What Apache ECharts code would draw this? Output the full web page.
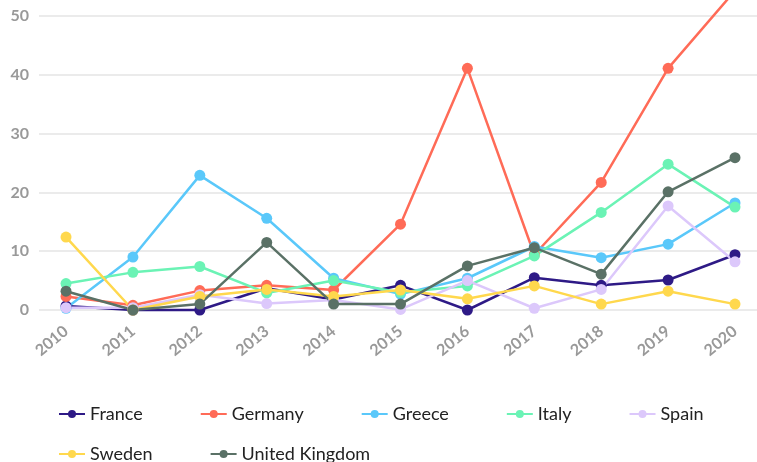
<!DOCTYPE html>
<html>
<head>
<meta charset="utf-8">
<script src="https://cdn.jsdelivr.net/npm/echarts@6/dist/echarts.min.js"></script>
<style>
  html, body { margin: 0; padding: 0; background: #fff; }
  #chart { width: 757px; height: 462px; }
</style>
</head>
<body>
<div id="chart"></div>
<script>
// data
var years = [2010, 2011, 2012, 2013, 2014, 2015, 2016, 2017, 2018, 2019, 2020];
var countries = ["France", "Germany", "Greece", "Italy", "Spain", "Sweden", "United Kingdom"];
var colors = ["#2e1a86", "#ff6b57", "#5ac8fa", "#6bf3b5", "#dcc8fb", "#ffd84d", "#5a7166"];

var france  = [0.7, 0, 0, 3.7, 1.8, 4.2, 0, 5.5, 4.2, 5.1, 9.4];
var germany = [2.3, 0.8, 3.3, 4.2, 3.4, 14.6, 41.1, 9.4, 21.7, 41.1, 54.3];
var greece  = [0.3, 9.0, 22.9, 15.6, 5.4, 2.7, 5.4, 10.8, 8.9, 11.2, 18.2];
var italy   = [4.5, 6.4, 7.4, 2.9, 5.0, 3.0, 4.1, 9.2, 16.6, 24.8, 17.5];
var spain   = [0.4, 0.4, 2.6, 1.1, 1.7, 0.1, 5.0, 0.3, 3.5, 17.7, 8.2];
var sweden  = [12.4, 0, 2.3, 3.5, 2.3, 3.4, 1.9, 4.1, 1.0, 3.2, 1.0];
var uk      = [3.2, 0, 1.0, 11.5, 1.0, 1.0, 7.5, 10.6, 6.1, 20.1, 25.9];
var values = [france, germany, greece, italy, spain, sweden, uk];

var yTicks = [0, 10, 20, 30, 40, 50];

var chart = echarts.init(document.getElementById("chart"));

var series = countries.map(function (name, i) {
  return {
    name: name,
    type: "line",
    clip: false,
    symbol: "circle",
    symbolSize: 11,
    lineStyle: { width: 2.5, color: colors[i] },
    itemStyle: { color: colors[i] },
    data: years.map(function (y, j) { return [y, values[i][j]]; })
  };
});

chart.setOption({
  animation: false,
  color: colors,
  grid: { left: 39, right: 0, top: 16, height: 294 },
  xAxis: {
    type: "value",
    min: 2009.596,
    max: 2020.329,
    axisLine: { show: false },
    axisTick: { show: false },
    splitLine: { show: false },
    axisLabel: {
      customValues: years,
      rotate: 40,
      margin: 19,
      color: "#999",
      fontFamily: "Lato",
      fontWeight: "bold",
      fontSize: 16,
      formatter: function (v) { return String(v); }
    }
  },
  yAxis: {
    type: "value",
    min: 0,
    max: 50,
    interval: 10,
    axisLine: { show: false },
    axisTick: { show: false },
    splitLine: { lineStyle: { color: "#e4e4e4", width: 1.5 } },
    axisLabel: {
      margin: 10,
      color: "#999",
      fontFamily: "Lato",
      fontWeight: "bold",
      fontSize: 16,
      formatter: function (v) { return yTicks.indexOf(v) >= 0 ? String(v) : ""; }
    }
  },
  legend: {
    left: 53,
    top: 399,
    width: 700,
    itemWidth: 26,
    itemHeight: 10,
    itemGap: 20,
    itemStyle: { borderWidth: 0 },
    textStyle: {
      color: "#222",
      fontFamily: "Lato",
      fontSize: 18,
      lineHeight: 20,
      padding: [0, 37, 0, 0]
    },
    data: countries
  },
  series: series
});
</script>
</body>
</html>
